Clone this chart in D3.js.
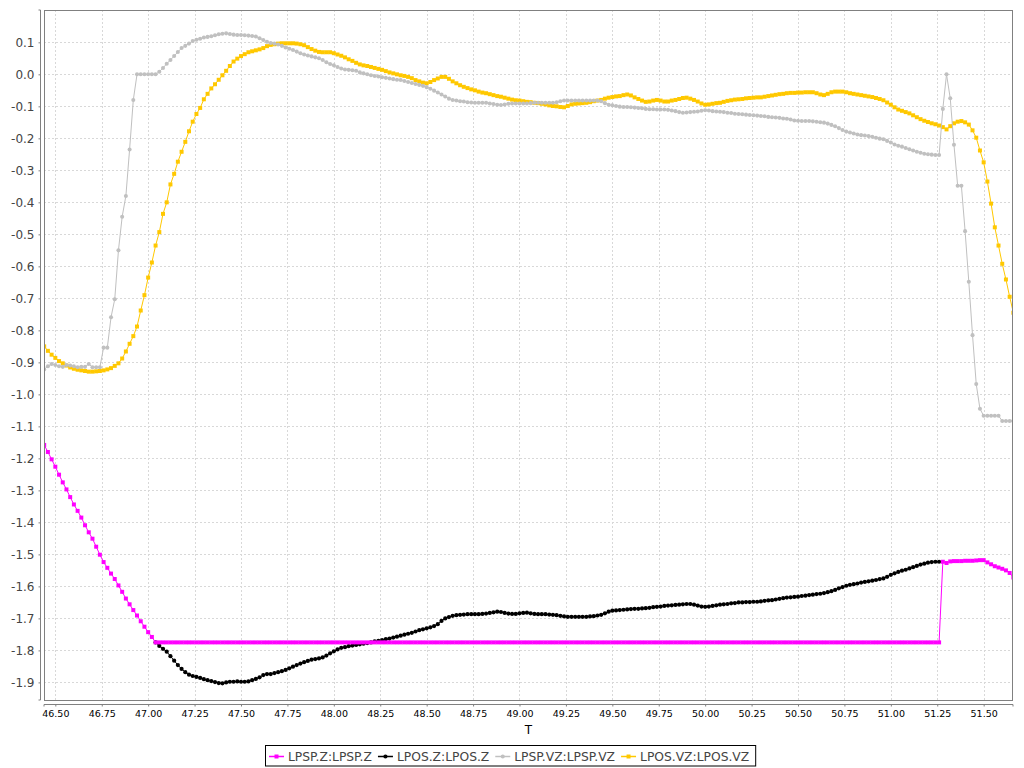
<!DOCTYPE html>
<html><head><meta charset="utf-8">
<script src="https://cdn.jsdelivr.net/npm/d3@7"></script>
<style>html,body{margin:0;padding:0;background:#fff;}svg{display:block;font-family:"DejaVu Sans",sans-serif;}</style>
</head><body>
<svg id="chart" width="1024" height="768"></svg>
<script>
// time sampling grid (s): T0 + i*DT
const T0 = 46.44, DT = 0.02, NPTS = 262;
const seriesNames = ["LPSP.Z:LPSP.Z","LPOS.Z:LPOS.Z","LPSP.VZ:LPSP.VZ","LPOS.VZ:LPOS.VZ"];
const seriesColors = ["#ff00ff","#000000","#c0c0c0","#ffc800"];
const xTicks = [46.50,46.75,47.00,47.25,47.50,47.75,48.00,48.25,48.50,48.75,49.00,49.25,49.50,49.75,50.00,50.25,50.50,50.75,51.00,51.25,51.50];
const yTicks = [0.1,0.0,-0.1,-0.2,-0.3,-0.4,-0.5,-0.6,-0.7,-0.8,-0.9,-1.0,-1.1,-1.2,-1.3,-1.4,-1.5,-1.6,-1.7,-1.8,-1.9];

const lpspZ = [
-1.158,-1.180,-1.203,-1.226,-1.251,-1.275,-1.297,-1.321,-1.344,-1.364,
-1.385,-1.409,-1.431,-1.451,-1.476,-1.501,-1.524,-1.542,-1.560,-1.577,
-1.597,-1.617,-1.638,-1.656,-1.674,-1.691,-1.709,-1.726,-1.743,-1.758,
-1.775,-1.775,-1.775,-1.775,-1.775,-1.775,-1.775,-1.775,-1.775,-1.775,
-1.775,-1.775,-1.775,-1.775,-1.775,-1.775,-1.775,-1.775,-1.775,-1.775,
-1.775,-1.775,-1.775,-1.775,-1.775,-1.775,-1.775,-1.775,-1.775,-1.775,
-1.775,-1.775,-1.775,-1.775,-1.775,-1.775,-1.775,-1.775,-1.775,-1.775,
-1.775,-1.775,-1.775,-1.775,-1.775,-1.775,-1.775,-1.775,-1.775,-1.775,
-1.775,-1.775,-1.775,-1.775,-1.775,-1.775,-1.775,-1.775,-1.775,-1.775,
-1.775,-1.775,-1.775,-1.775,-1.775,-1.775,-1.775,-1.775,-1.775,-1.775,
-1.775,-1.775,-1.775,-1.775,-1.775,-1.775,-1.775,-1.775,-1.775,-1.775,
-1.775,-1.775,-1.775,-1.775,-1.775,-1.775,-1.775,-1.775,-1.775,-1.775,
-1.775,-1.775,-1.775,-1.775,-1.775,-1.775,-1.775,-1.775,-1.775,-1.775,
-1.775,-1.775,-1.775,-1.775,-1.775,-1.775,-1.775,-1.775,-1.775,-1.775,
-1.775,-1.775,-1.775,-1.775,-1.775,-1.775,-1.775,-1.775,-1.775,-1.775,
-1.775,-1.775,-1.775,-1.775,-1.775,-1.775,-1.775,-1.775,-1.775,-1.775,
-1.775,-1.775,-1.775,-1.775,-1.775,-1.775,-1.775,-1.775,-1.775,-1.775,
-1.775,-1.775,-1.775,-1.775,-1.775,-1.775,-1.775,-1.775,-1.775,-1.775,
-1.775,-1.775,-1.775,-1.775,-1.775,-1.775,-1.775,-1.775,-1.775,-1.775,
-1.775,-1.775,-1.775,-1.775,-1.775,-1.775,-1.775,-1.775,-1.775,-1.775,
-1.775,-1.775,-1.775,-1.775,-1.775,-1.775,-1.775,-1.775,-1.775,-1.775,
-1.775,-1.775,-1.775,-1.775,-1.775,-1.775,-1.775,-1.775,-1.775,-1.775,
-1.775,-1.775,-1.775,-1.775,-1.775,-1.775,-1.775,-1.775,-1.775,-1.775,
-1.775,-1.775,-1.775,-1.775,-1.775,-1.775,-1.775,-1.775,-1.775,-1.775,
-1.775,-1.775,
-1.523,-1.527,-1.522,-1.521,-1.521,-1.521,-1.520,-1.520,-1.520,-1.519,
-1.518,-1.518,-1.525,-1.531,-1.537,-1.541,-1.545,-1.550,-1.558,-1.572
];

const lposZ = [
null,null,null,null,null,null,null,null,null,null,
null,null,null,null,null,null,null,null,null,null,
null,null,null,null,null,null,null,null,null,null,
-1.775,-1.786,-1.795,-1.804,-1.818,-1.832,-1.846,-1.858,-1.868,-1.876,
-1.880,-1.883,-1.886,-1.890,-1.893,-1.896,-1.899,-1.902,-1.903,-1.900,
-1.898,-1.898,-1.897,-1.898,-1.898,-1.897,-1.893,-1.889,-1.884,-1.877,
-1.874,-1.874,-1.871,-1.868,-1.865,-1.861,-1.856,-1.851,-1.846,-1.841,
-1.837,-1.833,-1.829,-1.827,-1.825,-1.822,-1.816,-1.809,-1.803,-1.797,
-1.792,-1.790,-1.787,-1.785,-1.783,-1.781,-1.779,-1.777,-1.775,-1.772,
-1.770,-1.768,-1.765,-1.763,-1.760,-1.757,-1.754,-1.751,-1.748,-1.745,
-1.741,-1.737,-1.734,-1.731,-1.728,-1.724,-1.718,-1.708,-1.700,-1.696,
-1.692,-1.690,-1.689,-1.688,-1.687,-1.687,-1.687,-1.687,-1.686,-1.685,
-1.683,-1.681,-1.679,-1.680,-1.683,-1.685,-1.686,-1.686,-1.684,-1.683,
-1.682,-1.684,-1.686,-1.687,-1.687,-1.687,-1.688,-1.689,-1.690,-1.692,
-1.694,-1.695,-1.695,-1.695,-1.695,-1.695,-1.695,-1.694,-1.693,-1.691,
-1.689,-1.684,-1.679,-1.676,-1.675,-1.674,-1.673,-1.672,-1.671,-1.670,
-1.670,-1.669,-1.668,-1.667,-1.665,-1.664,-1.663,-1.661,-1.660,-1.659,
-1.658,-1.657,-1.656,-1.655,-1.655,-1.657,-1.660,-1.663,-1.664,-1.663,
-1.661,-1.659,-1.657,-1.656,-1.655,-1.653,-1.652,-1.650,-1.650,-1.649,
-1.649,-1.648,-1.648,-1.647,-1.645,-1.644,-1.643,-1.641,-1.639,-1.637,
-1.635,-1.634,-1.633,-1.632,-1.630,-1.629,-1.627,-1.626,-1.624,-1.623,
-1.621,-1.618,-1.615,-1.611,-1.606,-1.602,-1.598,-1.595,-1.593,-1.591,
-1.588,-1.586,-1.584,-1.582,-1.580,-1.577,-1.575,-1.570,-1.564,-1.559,
-1.555,-1.551,-1.548,-1.544,-1.540,-1.536,-1.532,-1.529,-1.526,-1.524,
-1.523,-1.523,
null,null,null,null,null,null,null,null,null,null,
null,null,null,null,null,null,null,null,null,null
];

const lpspVZ = [
-0.922,-0.912,-0.905,-0.908,-0.912,-0.914,-0.908,-0.910,-0.912,-0.915,
-0.914,-0.914,-0.905,-0.915,-0.915,-0.915,-0.854,-0.854,-0.759,-0.703,
-0.550,-0.445,-0.380,-0.235,-0.080,0.000,0.000,0.000,0.000,0.000,
0.000,0.008,0.020,0.033,0.045,0.057,0.070,0.082,0.089,0.096,
0.104,0.108,0.111,0.115,0.117,0.119,0.122,0.125,0.127,0.128,
0.126,0.124,0.123,0.123,0.122,0.121,0.120,0.118,0.113,0.107,
0.102,0.098,0.096,0.093,0.089,0.084,0.080,0.076,0.071,0.066,
0.062,0.059,0.056,0.053,0.050,0.045,0.038,0.032,0.028,0.023,
0.018,0.015,0.014,0.013,0.011,0.006,0.003,0.000,-0.003,-0.005,
-0.007,-0.009,-0.011,-0.013,-0.015,-0.017,-0.018,-0.021,-0.024,-0.027,
-0.030,-0.033,-0.036,-0.040,-0.045,-0.051,-0.057,-0.063,-0.069,-0.076,
-0.080,-0.082,-0.084,-0.085,-0.087,-0.088,-0.089,-0.089,-0.089,-0.089,
-0.091,-0.093,-0.095,-0.096,-0.094,-0.092,-0.091,-0.091,-0.091,-0.091,
-0.091,-0.090,-0.089,-0.089,-0.089,-0.089,-0.089,-0.089,-0.087,-0.084,
-0.082,-0.082,-0.082,-0.082,-0.082,-0.082,-0.082,-0.082,-0.082,-0.082,
-0.084,-0.090,-0.095,-0.097,-0.099,-0.101,-0.102,-0.102,-0.103,-0.104,
-0.105,-0.106,-0.108,-0.109,-0.109,-0.110,-0.110,-0.110,-0.111,-0.113,
-0.115,-0.118,-0.120,-0.119,-0.118,-0.117,-0.116,-0.114,-0.112,-0.113,
-0.115,-0.116,-0.117,-0.118,-0.120,-0.121,-0.123,-0.124,-0.125,-0.126,
-0.127,-0.128,-0.129,-0.130,-0.131,-0.133,-0.134,-0.135,-0.136,-0.138,
-0.139,-0.141,-0.144,-0.145,-0.146,-0.146,-0.146,-0.147,-0.148,-0.150,
-0.151,-0.154,-0.158,-0.162,-0.168,-0.174,-0.179,-0.182,-0.185,-0.188,
-0.190,-0.191,-0.193,-0.195,-0.198,-0.201,-0.203,-0.208,-0.213,-0.219,
-0.223,-0.226,-0.230,-0.234,-0.238,-0.242,-0.245,-0.248,-0.250,-0.251,
-0.252,-0.252,-0.108,0.000,-0.075,-0.220,-0.348,-0.348,-0.490,-0.648,
-0.815,-0.968,-1.045,-1.067,-1.067,-1.067,-1.067,-1.067,-1.083,-1.083,
-1.083,-1.083
];

const lposVZ = [
-0.850,-0.864,-0.876,-0.886,-0.896,-0.903,-0.910,-0.916,-0.920,-0.923,
-0.925,-0.927,-0.929,-0.929,-0.928,-0.927,-0.925,-0.922,-0.918,-0.911,
-0.903,-0.888,-0.866,-0.842,-0.818,-0.788,-0.738,-0.690,-0.635,-0.588,
-0.535,-0.493,-0.436,-0.400,-0.344,-0.311,-0.273,-0.242,-0.211,-0.178,
-0.148,-0.124,-0.105,-0.078,-0.061,-0.044,-0.031,-0.017,-0.003,0.011,
0.026,0.040,0.049,0.057,0.063,0.069,0.072,0.075,0.078,0.082,
0.088,0.092,0.094,0.096,0.097,0.097,0.097,0.097,0.096,0.094,
0.091,0.085,0.079,0.074,0.070,0.069,0.069,0.069,0.066,0.062,
0.058,0.053,0.047,0.042,0.036,0.031,0.028,0.026,0.023,0.020,
0.017,0.014,0.010,0.006,0.003,0.000,-0.003,-0.005,-0.008,-0.012,
-0.018,-0.022,-0.026,-0.028,-0.024,-0.018,-0.013,-0.008,-0.008,-0.014,
-0.022,-0.028,-0.034,-0.039,-0.043,-0.047,-0.050,-0.054,-0.057,-0.059,
-0.062,-0.065,-0.068,-0.070,-0.073,-0.076,-0.079,-0.081,-0.082,-0.084,
-0.086,-0.087,-0.089,-0.090,-0.092,-0.094,-0.097,-0.099,-0.100,-0.102,
-0.103,-0.099,-0.094,-0.092,-0.091,-0.090,-0.089,-0.087,-0.084,-0.082,
-0.080,-0.076,-0.073,-0.071,-0.069,-0.068,-0.065,-0.063,-0.066,-0.072,
-0.077,-0.082,-0.086,-0.085,-0.082,-0.080,-0.082,-0.085,-0.085,-0.082,
-0.080,-0.077,-0.074,-0.073,-0.076,-0.080,-0.085,-0.091,-0.095,-0.094,
-0.092,-0.090,-0.089,-0.086,-0.083,-0.081,-0.079,-0.078,-0.077,-0.075,
-0.074,-0.073,-0.072,-0.072,-0.070,-0.068,-0.066,-0.064,-0.062,-0.061,
-0.059,-0.058,-0.058,-0.057,-0.057,-0.056,-0.056,-0.056,-0.059,-0.063,
-0.065,-0.061,-0.056,-0.054,-0.054,-0.054,-0.056,-0.059,-0.061,-0.063,
-0.065,-0.067,-0.069,-0.071,-0.074,-0.077,-0.081,-0.088,-0.095,-0.103,
-0.110,-0.114,-0.118,-0.122,-0.128,-0.134,-0.140,-0.145,-0.149,-0.153,
-0.156,-0.160,-0.165,-0.172,-0.162,-0.153,-0.148,-0.146,-0.150,-0.157,
-0.175,-0.198,-0.238,-0.275,-0.335,-0.404,-0.478,-0.535,-0.592,-0.641,
-0.695,-0.745
];

const seriesValues = [lpspZ, lposZ, lpspVZ, lposVZ];
const T = d3.range(NPTS).map(i => +(T0 + i * DT).toFixed(3));

const svg = d3.select("#chart");
svg.append("rect").attr("width",1024).attr("height",768).attr("fill","#fff");

const L = 44, R = 1013, TOP = 10, B = 700;
const x = d3.scaleLinear().domain([46.439, 51.658]).range([L, R]);
const y = d3.scaleLinear().domain([-1.955, 0.201]).range([B, TOP]);

// gridlines
const grid = svg.append("g").attr("stroke","#d8d8d8").attr("stroke-width",1).attr("stroke-dasharray","2,2");
grid.selectAll("line.v").data(xTicks).join("line")
  .attr("x1", d => Math.round(x(d)) + 0.5).attr("x2", d => Math.round(x(d)) + 0.5)
  .attr("y1", TOP).attr("y2", B);
grid.selectAll("line.h").data(yTicks).join("line")
  .attr("y1", d => Math.round(y(d)) + 0.5).attr("y2", d => Math.round(y(d)) + 0.5)
  .attr("x1", L).attr("x2", R);

// clip
svg.append("clipPath").attr("id","clip").append("rect").attr("x",L).attr("y",TOP).attr("width",R-L).attr("height",B-TOP);
const plot = svg.append("g").attr("clip-path","url(#clip)");

const shapes = [d3.symbolSquare, d3.symbolCircle, d3.symbolCircle, d3.symbolSquare];
const sizes = [16, 14, 13, 16];

// render in reverse order so first series ends on top
for (let s = 3; s >= 0; s--) {
  const pts = T.map((t, i) => [t, seriesValues[s][i]]).filter(p => p[1] !== null && p[1] !== undefined);
  const line = d3.line().x(d => x(d[0])).y(d => y(d[1]));
  plot.append("path").datum(pts).attr("d", line)
    .attr("fill","none").attr("stroke", seriesColors[s]).attr("stroke-width",1);
  const sym = d3.symbol().type(shapes[s]).size(sizes[s]);
  plot.append("g").selectAll("path").data(pts).join("path")
    .attr("d", sym)
    .attr("transform", d => `translate(${x(d[0])},${y(d[1])})`)
    .attr("fill", seriesColors[s]);
}

// plot border
svg.append("rect").attr("x",L+0.5).attr("y",TOP+0.5).attr("width",R-L-1).attr("height",B-TOP)
  .attr("fill","none").attr("stroke","#808080").attr("stroke-width",1);

// y axis
const yAxis = d3.axisLeft(y).tickValues(yTicks).tickSize(2).tickPadding(4)
  .tickFormat(d => (Math.abs(d) < 1e-9 ? "0.0" : d.toFixed(1)));
const gy = svg.append("g").attr("transform","translate(40.5,0)").call(yAxis);
gy.select(".domain").attr("stroke","#808080").attr("d", `M-2,${TOP}H0V${B}H-2`);
gy.selectAll(".tick line").attr("stroke","#808080");
gy.selectAll(".tick text").attr("fill","#444").attr("font-size","12px").attr("font-family","DejaVu Sans");

// x axis
const xAxis = d3.axisBottom(x).tickValues(xTicks).tickSize(2).tickPadding(4).tickFormat(d3.format(".2f"));
const gx = svg.append("g").attr("transform","translate(0,704.5)").call(xAxis);
gx.select(".domain").attr("stroke","#808080").attr("d", `M${L},2V0H${R}V2`);
gx.selectAll(".tick line").attr("stroke","#808080");
gx.selectAll(".tick text").attr("fill","#000").attr("font-size","9.5px").attr("font-family","DejaVu Sans");

svg.append("text").attr("x",(L+R)/2).attr("y",734).attr("text-anchor","middle")
  .attr("font-size","12px").attr("fill","#000").text("T");

// legend
const lg = svg.append("g");
let cx = 269;
seriesNames.forEach((name, s) => {
  const g = lg.append("g");
  g.append("line").attr("x1",cx).attr("x2",cx+15).attr("y1",756.5).attr("y2",756.5)
    .attr("stroke",seriesColors[s]).attr("stroke-width",1.5);
  g.append("path").attr("d", d3.symbol().type(shapes[s]).size(sizes[s])())
    .attr("transform",`translate(${cx+7.5},756.5)`).attr("fill",seriesColors[s]);
  const t = g.append("text").attr("x",cx+19).attr("y",761).attr("font-size","12.3px").attr("fill","#444").text(name);
  cx += 19 + t.node().getComputedTextLength() + 6;
});
svg.append("rect").attr("x",265.5).attr("y",745.5).attr("width",cx-265).attr("height",20.5)
  .attr("fill","none").attr("stroke","#000").attr("stroke-width",1);
</script>
</body></html>
